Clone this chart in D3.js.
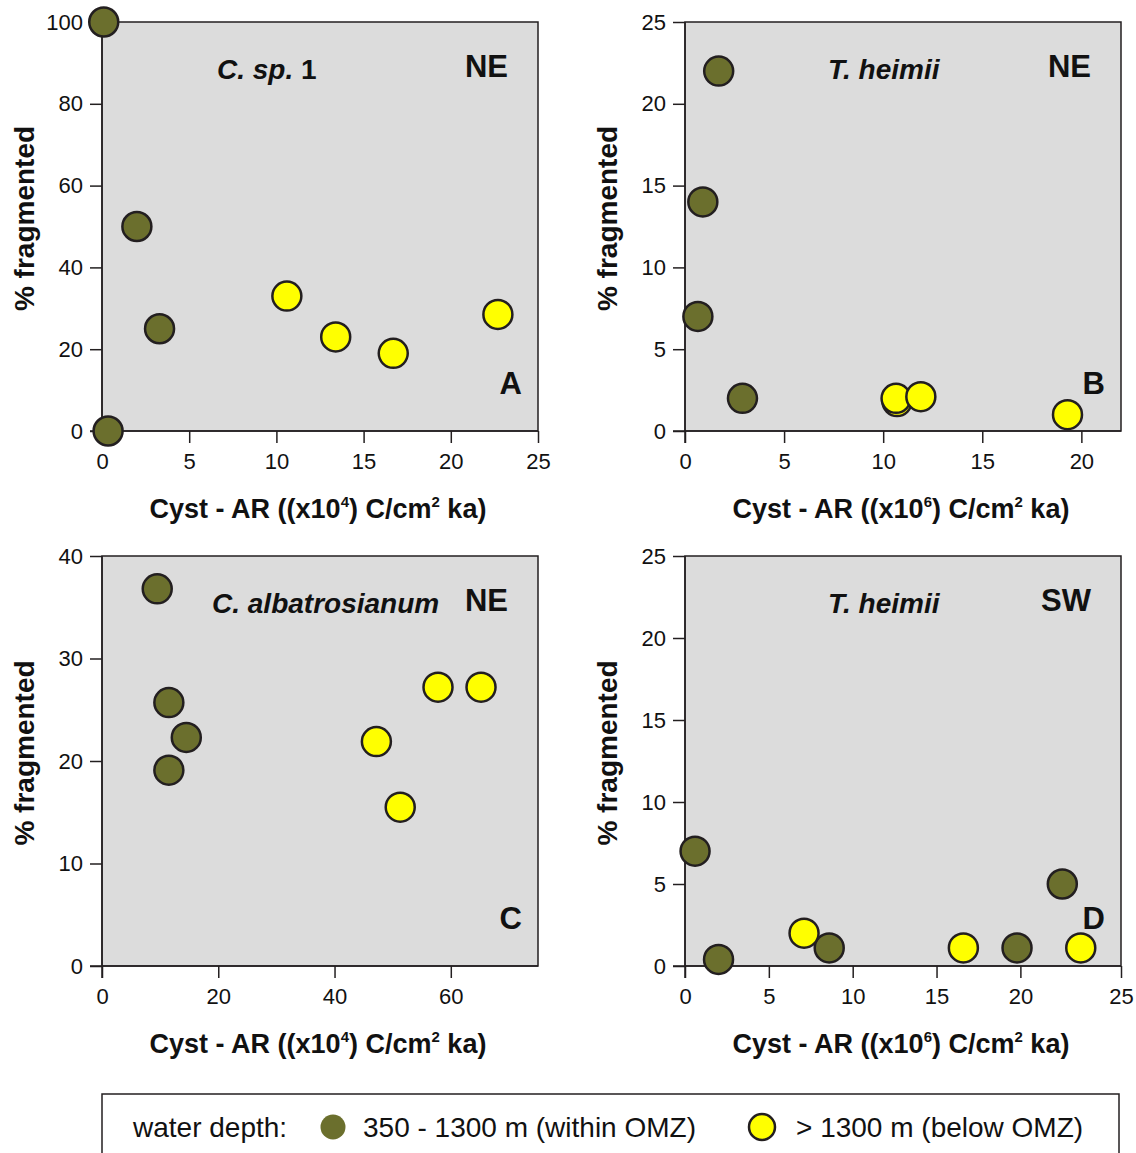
<!DOCTYPE html>
<html>
<head>
<meta charset="utf-8">
<script src="https://cdn.jsdelivr.net/npm/d3@7"></script>
<style>
  body { margin: 0; background: #fff; }
  svg text { font-family: "Liberation Sans", Arial, sans-serif; fill: #111; }
</style>
</head>
<body>
<svg id="chart" width="1136" height="1153"></svg>
<script>
// panel A - C. sp. 1, NE  (x10^4)
const aOliveX = [0.1, 2.0, 3.3, 0.35];
const aOliveY = [100, 50, 25, 0];
const aYellowX = [10.6, 13.4, 16.7, 22.7];
const aYellowY = [33, 23, 19, 28.5];
// panel B - T. heimii, NE (x10^6)
const bOliveX = [1.7, 0.9, 0.65, 2.9];
const bOliveY = [22, 14, 7, 2];
const bYellowX = [10.7, 10.65, 11.9, 19.3];
const bYellowY = [1.8, 2.0, 2.1, 1.0];
// panel C - C. albatrosianum, NE (x10^4)
const cOliveX = [9.5, 11.5, 14.5, 11.5];
const cOliveY = [36.8, 25.7, 22.3, 19.1];
const cYellowX = [47.2, 51.3, 57.8, 65.2];
const cYellowY = [21.9, 15.5, 27.2, 27.2];
// panel D - T. heimii, SW (x10^6)
const dOliveX = [0.6, 2.0, 8.6, 19.8, 22.5];
const dOliveY = [7.0, 0.4, 1.1, 1.1, 5.0];
const dYellowX = [7.1, 16.6, 23.6];
const dYellowY = [2.0, 1.1, 1.1];

// tick labels
const xTicksA = [0, 5, 10, 15, 20, 25];
const yTicksA = [0, 20, 40, 60, 80, 100];
const xTicksB = [0, 5, 10, 15, 20];
const yTicksB = [0, 5, 10, 15, 20, 25];
const xTicksC = [0, 20, 40, 60];
const yTicksC = [0, 10, 20, 30, 40];
const xTicksD = [0, 5, 10, 15, 20, 26];
const xTickLabelsD = ["0", "5", "10", "15", "20", "25"];
const yTicksD = [0, 5, 10, 15, 20, 25];

const legendLabels = ["350 - 1300 m (within OMZ)", "> 1300 m (below OMZ)"];

const OLIVE = "#6b6f2d", YELLOW = "#ffff00", INK = "#231f20";

const panels = [
    { box: [102, 22, 538, 431], xd: [0, 25], yd: [0, 100], xt: xTicksA, yt: yTicksA,
      olive: [aOliveX, aOliveY], yellow: [aYellowX, aYellowY],
      species: [["C. sp.", true], [" 1", false]], spX: 217, region: "NE", letter: "A", exp: "4" },
    { box: [685, 22, 1121, 431], xd: [0, 22], yd: [0, 25], xt: xTicksB, yt: yTicksB,
      olive: [bOliveX, bOliveY], yellow: [bYellowX, bYellowY],
      species: [["T. heimii", true]], spX: 828, region: "NE", letter: "B", exp: "6" },
    { box: [102, 556, 538, 966], xd: [0, 75], yd: [0, 40], xt: xTicksC, yt: yTicksC,
      olive: [cOliveX, cOliveY], yellow: [cYellowX, cYellowY],
      species: [["C. albatrosianum", true]], spX: 212, region: "NE", letter: "C", exp: "4" },
    { box: [685, 556, 1121, 966], xd: [0, 26], yd: [0, 25], xt: xTicksD, yt: yTicksD,
      xlab: xTickLabelsD,
      olive: [dOliveX, dOliveY], yellow: [dYellowX, dYellowY],
      species: [["T. heimii", true]], spX: 828, region: "SW", letter: "D", exp: "6" }
];

const svg = d3.select("#chart");

panels.forEach(function(p) {
    const [x0, y0, x1, y1] = p.box;
    const xScale = d3.scaleLinear().domain(p.xd).range([x0, x1]);
    const yScale = d3.scaleLinear().domain(p.yd).range([y1, y0]);
    const g = svg.append("g");

    g.append("rect")
        .attr("x", x0).attr("y", y0)
        .attr("width", x1 - x0).attr("height", y1 - y0)
        .attr("fill", "#dcdcdc")
        .attr("stroke", INK).attr("stroke-width", 1.5);

    const xAxis = d3.axisBottom(xScale).tickValues(p.xt).tickSize(12).tickPadding(10)
        .tickFormat(function(d, i) { return p.xlab ? p.xlab[i] : d; });
    const yAxis = d3.axisLeft(yScale).tickValues(p.yt).tickSize(12).tickPadding(7);

    const gx = g.append("g").attr("transform", "translate(0," + y1 + ")").call(xAxis);
    const gy = g.append("g").attr("transform", "translate(" + x0 + ",0)").call(yAxis);
    [gx, gy].forEach(function(a) {
        a.select(".domain").remove();
        a.selectAll(".tick line").attr("stroke", INK).attr("stroke-width", 1.5);
        a.selectAll(".tick text").style("font-size", "22px").attr("fill", "#111");
    });
    // extend the axis lines past the box, to the tick marks
    g.append("line").attr("x1", x0 - 12).attr("x2", x1).attr("y1", y1).attr("y2", y1)
        .attr("stroke", INK).attr("stroke-width", 1.5);
    g.append("line").attr("x1", x0).attr("x2", x0).attr("y1", y0).attr("y2", y1 + 12)
        .attr("stroke", INK).attr("stroke-width", 1.5);

    // points
    [[p.olive, OLIVE], [p.yellow, YELLOW]].forEach(function(s) {
        const xs = s[0][0], ys = s[0][1];
        g.selectAll(null).data(xs).enter().append("circle")
            .attr("cx", function(d) { return xScale(d); })
            .attr("cy", function(d, i) { return yScale(ys[i]); })
            .attr("r", 14.5)
            .attr("fill", s[1])
            .attr("stroke", INK).attr("stroke-width", 2.5);
    });

    // species name
    const sp = g.append("text")
        .attr("x", p.spX).attr("y", y0 + 57)
        .style("font-size", "28px").style("font-weight", "bold");
    p.species.forEach(function(s) {
        sp.append("tspan").text(s[0]).style("font-style", s[1] ? "italic" : "normal");
    });

    g.append("text").attr("x", x1 - 30).attr("y", y0 + 55)
        .attr("text-anchor", "end")
        .style("font-size", "31px").style("font-weight", "bold")
        .text(p.region);
    g.append("text").attr("x", x1 - 16).attr("y", y1 - 37)
        .attr("text-anchor", "end")
        .style("font-size", "31px").style("font-weight", "bold")
        .text(p.letter);

    // axis titles
    const xt = g.append("text")
        .attr("x", (x0 + x1) / 2 - 2).attr("y", y1 + 87)
        .attr("text-anchor", "middle")
        .style("font-size", "27px").style("font-weight", "bold");
    xt.append("tspan").text("Cyst - AR ((x10");
    xt.append("tspan").text(p.exp).attr("dy", -11).style("font-size", "15px");
    xt.append("tspan").text(") C/cm").attr("dy", 11);
    xt.append("tspan").text("2").attr("dy", -11).style("font-size", "15px");
    xt.append("tspan").text(" ka)").attr("dy", 11);

    g.append("text")
        .attr("transform", "translate(" + (x0 - 68) + "," + ((y0 + y1) / 2 - 8) + ") rotate(-90)")
        .attr("text-anchor", "middle")
        .style("font-size", "28px").style("font-weight", "bold")
        .text("% fragmented");
});

// legend
const lg = svg.append("g");
lg.append("rect").attr("x", 102).attr("y", 1094).attr("width", 1017).attr("height", 80)
    .attr("fill", "none").attr("stroke", INK).attr("stroke-width", 1.5);
lg.append("text").attr("x", 133).attr("y", 1137).style("font-size", "28px").text("water depth:");
lg.append("circle").attr("cx", 333).attr("cy", 1127).attr("r", 12.5).attr("fill", OLIVE);
lg.append("text").attr("x", 363).attr("y", 1137).style("font-size", "28px").text(legendLabels[0]);
lg.append("circle").attr("cx", 762).attr("cy", 1127).attr("r", 13).attr("fill", YELLOW)
    .attr("stroke", INK).attr("stroke-width", 2.5);
lg.append("text").attr("x", 796).attr("y", 1137).style("font-size", "28px").text(legendLabels[1]);
</script>
</body>
</html>
